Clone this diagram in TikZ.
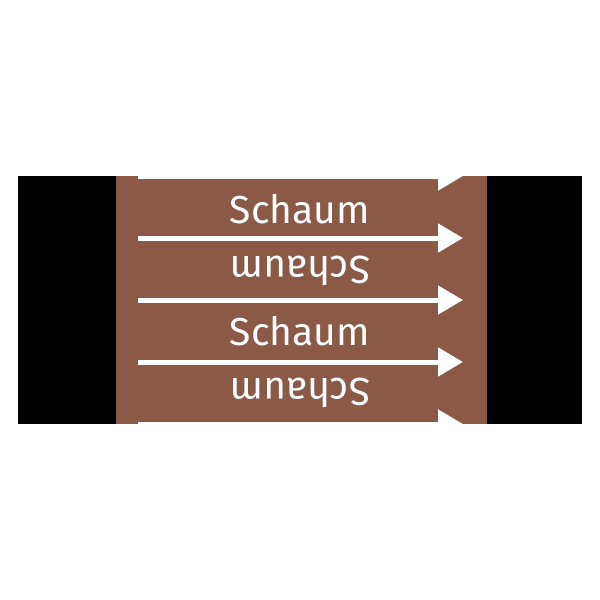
\documentclass[tikz,border=0pt]{standalone}
\usepackage{fontspec}
\setmainfont{Fira Sans}
\usetikzlibrary{arrows.meta}
\definecolor{schaumbrown}{RGB}{139,90,71}
\begin{document}
\begin{tikzpicture}[x=1pt, y=-1pt,
                    every node/.style={inner sep=0pt, text=white, font=\fontsize{39}{44}\selectfont},
                    flow/.style={draw=white, line width=5pt,
                                 -{Triangle[length=25pt, width=28pt]}}]
      \useasboundingbox (0, 0) rectangle (600, 600);
      \fill[black] (18, 176) rectangle (582, 424);
      \fill[schaumbrown] (116, 176) rectangle (487, 424);
      \coordinate (start) at (138, 0);
      \coordinate (end) at (463, 0);
      \node[anchor=base] (schaum_a) at (300, 223) {Schaum};
      \node[anchor=base, rotate=180] (schaum_b) at (300, 256) {Schaum};
      \node[anchor=base] (schaum_c) at (300, 345) {Schaum};
      \node[anchor=base, rotate=180] (schaum_d) at (300, 378) {Schaum};
      \begin{scope}
        \clip (116, 176) rectangle (487, 424);
        \foreach \y in {176, 238, 300, 362, 424}
          \draw[flow] ([yshift=-\y pt]start) -- ([yshift=-\y pt]end);
      \end{scope}
    \end{tikzpicture}
\end{document}
